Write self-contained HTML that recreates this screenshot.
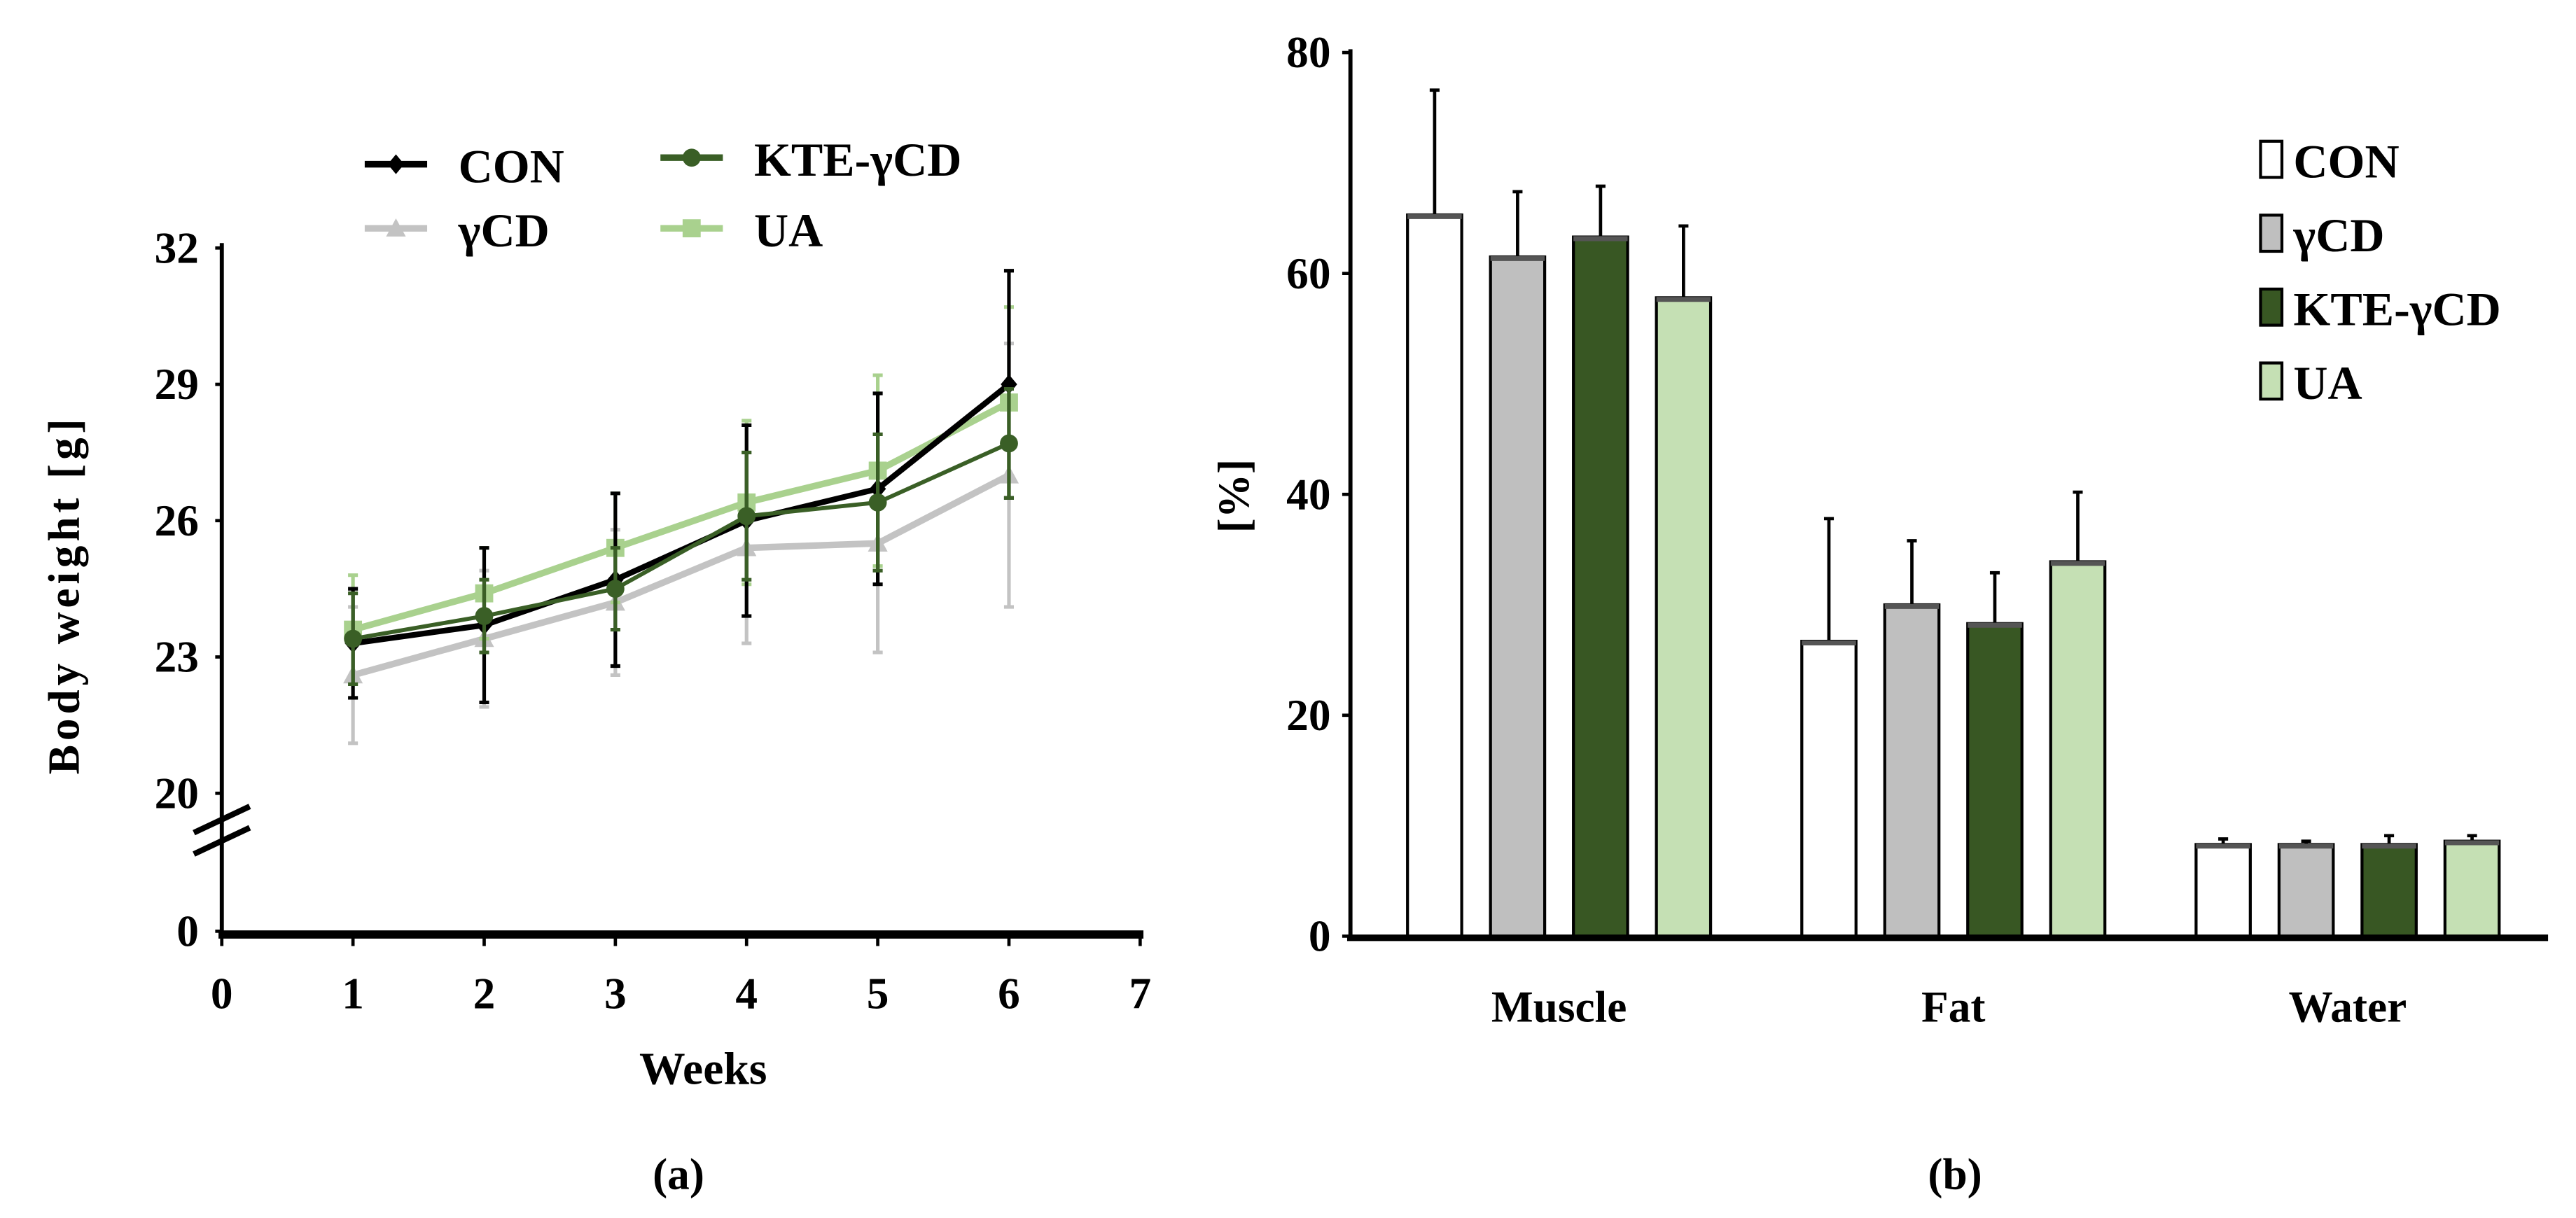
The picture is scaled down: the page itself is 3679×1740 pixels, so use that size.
<!DOCTYPE html>
<html><head><meta charset="utf-8"><style>
html,body{margin:0;padding:0;background:#fff;}
svg{display:block;}
text{font-family:"Liberation Serif",serif;font-weight:bold;fill:#000;}
</style></head><body>
<svg id="fig" width="3679" height="1740" viewBox="0 0 1568 741.6" xmlns="http://www.w3.org/2000/svg">
<g id="chartA"></g>
<g id="chartB"></g>
</svg>
<script>
// ---- Chart (a) data ----
const weeks = [1,2,3,4,5,6];
const conVals = [23.3,23.7,24.7,26.0,26.7,29.0];
const conErr = [1.2,1.7,1.9,2.1,2.1,2.5];
const gcdVals = [22.6,23.4,24.2,25.4,25.5,27.0];
const gcdErr = [1.5,1.5,1.6,2.1,2.4,2.9];
const kteVals = [23.4,23.9,24.5,26.1,26.4,27.7];
const kteErr = [1.0,0.8,0.9,1.4,1.5,1.2];
const uaVals = [23.6,24.4,25.4,26.4,27.1,28.6];
const uaErr = [1.2,1.0,1.2,1.8,2.1,2.1];
const aYTicks = [20,23,26,29,32];
const aXTicks = [0,1,2,3,4,5,6,7];
// ---- Chart (b) data ----
const categories = ['Muscle','Fat','Water'];
const bConVals = [65.3,26.7,8.3];
const bConErr = [11.3,11.1,0.5];
const bGcdVals = [61.5,30.0,8.3];
const bGcdErr = [5.9,5.8,0.3];
const bKteVals = [63.3,28.3,8.3];
const bKteErr = [4.6,4.6,0.8];
const bUaVals = [57.8,33.9,8.6];
const bUaErr = [6.5,6.3,0.5];
const bYTicks = [0,20,40,60,80];

const NS='http://www.w3.org/2000/svg';
function mk(parent,tag,attrs,txt){const e=document.createElementNS(NS,tag);for(const k in attrs)e.setAttribute(k,attrs[k]);if(txt!==undefined)e.textContent=txt;parent.appendChild(e);return e;}

// ===== Chart A =====
const A=document.getElementById('chartA');
const ax=v=>135+(v-0)*(694-135)/7;
const ay=v=>483-(v-20)*(483-151)/12;
let e;
e=mk(A,'line',{x1:135,y1:148,x2:135,y2:570,stroke:'#000','stroke-width':2.5});


e=mk(A,'line',{x1:133,y1:569,x2:696,y2:569,stroke:'#000','stroke-width':5});


e=mk(A,'path',{d:'M118,507 L152,491 M118,520 L152,504',stroke:'#000','stroke-width':3.5,fill:'none'});


aYTicks.forEach(t=>{
 mk(A,'line',{x1:131,y1:ay(t),x2:135,y2:ay(t),stroke:'#000','stroke-width':2});
 e=mk(A,'text',{x:121,y:ay(t)+9,'text-anchor':'end','font-size':27},t);
 
 
});
mk(A,'line',{x1:131,y1:567,x2:135,y2:567,stroke:'#000','stroke-width':2});
e=mk(A,'text',{x:121,y:576,'text-anchor':'end','font-size':27},'0');


aXTicks.forEach(t=>{
 mk(A,'line',{x1:ax(t),y1:569,x2:ax(t),y2:576,stroke:'#000','stroke-width':2});
 e=mk(A,'text',{x:ax(t),y:614,'text-anchor':'middle','font-size':27},t);
 
 
});
e=mk(A,'text',{x:428,y:660,'text-anchor':'middle','font-size':28},'Weeks');


e=mk(A,'text',{x:0,y:0,'text-anchor':'middle','font-size':27,'letter-spacing':'2.5',transform:'translate(48,362) rotate(-90)'},'Body weight [g]');


e=mk(A,'text',{x:413,y:724,'text-anchor':'middle','font-size':27},'(a)');



function marker(g,type,x,y,c){
 if(type==='diamond')return mk(g,'path',{d:`M${x},${y-6} L${x+5},${y} L${x},${y+6} L${x-5},${y} Z`,fill:c});
 if(type==='tri')return mk(g,'path',{d:`M${x},${y-6} L${x+6},${y+5} L${x-6},${y+5} Z`,fill:c});
 if(type==='circle')return mk(g,'circle',{cx:x,cy:y,r:5.5,fill:c});
 return mk(g,'rect',{x:x-5.5,y:y-5.5,width:11,height:11,fill:c});
}
const series=[
 {name:'gcd',vals:gcdVals,err:gcdErr,c:'#c3c3c3',m:'tri',w:4},
 {name:'ua',vals:uaVals,err:uaErr,c:'#a9d18e',m:'sq',w:4},
 {name:'con',vals:conVals,err:conErr,c:'#000',m:'diamond',w:3.5},
 {name:'kte',vals:kteVals,err:kteErr,c:'#3a5f26',m:'circle',w:2.5},
];
series.forEach(s=>{
 const g=mk(A,'g',{});
 
 
 weeks.forEach((w,i)=>{
  const x=ax(w),y1=ay(s.vals[i]+s.err[i]),y2=ay(s.vals[i]-s.err[i]);
  const eb=mk(g,'path',{d:`M${x},${y1} L${x},${y2} M${x-3},${y1} L${x+3},${y1} M${x-3},${y2} L${x+3},${y2}`,stroke:s.c,'stroke-width':2.2,fill:'none'});
  
  
 });
 const pts=weeks.map((w,i)=>ax(w)+','+ay(s.vals[i])).join(' ');
 const ln=mk(g,'polyline',{points:pts,fill:'none',stroke:s.c,'stroke-width':s.w});
 
 
 weeks.forEach((w,i)=>{
  const p=marker(g,s.m,ax(w),ay(s.vals[i]),s.c);
  
  
 });
});
const legA=[
 {t:'CON',c:'#000',m:'diamond',x:222,y:100},
 {t:'KTE-γCD',c:'#3a5f26',m:'circle',x:402,y:96},
 {t:'γCD',c:'#c3c3c3',m:'tri',x:222,y:139},
 {t:'UA',c:'#a9d18e',m:'sq',x:402,y:139},
];
legA.forEach(l=>{
 const g=mk(A,'g',{});
 
 
 mk(g,'line',{x1:l.x,y1:l.y,x2:l.x+38,y2:l.y,stroke:l.c,'stroke-width':4});
 marker(g,l.m,l.x+19,l.y,l.c);
 mk(g,'text',{x:l.x+57,y:l.y+11,'font-size':29},l.t);
});

// ===== Chart B =====
const B=document.getElementById('chartB');
const by=v=>570-v*(570-32)/80;
const groupX=[949,1189,1429];
const barW=33, barStep=50.5;
const bSeries=[
 {name:'con',vals:bConVals,err:bConErr,c:'#ffffff'},
 {name:'gcd',vals:bGcdVals,err:bGcdErr,c:'#bfbfbf'},
 {name:'kte',vals:bKteVals,err:bKteErr,c:'#385723'},
 {name:'ua',vals:bUaVals,err:bUaErr,c:'#c5e0b4'},
];
bSeries.forEach((s,si)=>{
 categories.forEach((cat,ci)=>{
  const x=groupX[ci]+(si-1.5)*barStep-barW/2;
  const v=s.vals[ci],er=s.err[ci];
  const eb=mk(B,'path',{d:`M${x+barW/2},${by(v)} L${x+barW/2},${by(v+er)} M${x+barW/2-3},${by(v+er)} L${x+barW/2+3},${by(v+er)}`,stroke:'#000','stroke-width':2,fill:'none'});
  
  
  const r=mk(B,'rect',{x:x,y:by(v),width:barW,height:570-by(v),fill:s.c,stroke:'#000','stroke-width':1.8});
  
  
  mk(B,'line',{x1:x,y1:by(v)+1,x2:x+barW,y2:by(v)+1,stroke:'#555','stroke-width':3});
 });
});
e=mk(B,'line',{x1:822,y1:30,x2:822,y2:572,stroke:'#000','stroke-width':2.5});


e=mk(B,'line',{x1:820,y1:571,x2:1551,y2:571,stroke:'#000','stroke-width':4});


bYTicks.forEach(t=>{
 mk(B,'line',{x1:817,y1:by(t),x2:822,y2:by(t),stroke:'#000','stroke-width':2});
 e=mk(B,'text',{x:810,y:by(t)+9,'text-anchor':'end','font-size':27},t);
 
 
});
categories.forEach((c,i)=>{
 e=mk(B,'text',{x:groupX[i],y:622,'text-anchor':'middle','font-size':27},c);
 
 
});
e=mk(B,'text',{x:0,y:0,'text-anchor':'middle','font-size':27,transform:'translate(760,302) rotate(-90)'},'[%]');


e=mk(B,'text',{x:1190,y:724,'text-anchor':'middle','font-size':27},'(b)');


const legB=['CON','γCD','KTE-γCD','UA'];
legB.forEach((t,i)=>{
 const g=mk(B,'g',{});
 
 
 const y=97+i*45;
 mk(g,'rect',{x:1376,y:y-11,width:13,height:22,fill:bSeries[i].c,stroke:'#000','stroke-width':1.8});
 mk(g,'text',{x:1396,y:y+11,'font-size':29},t);
});
</script>
</body></html>
